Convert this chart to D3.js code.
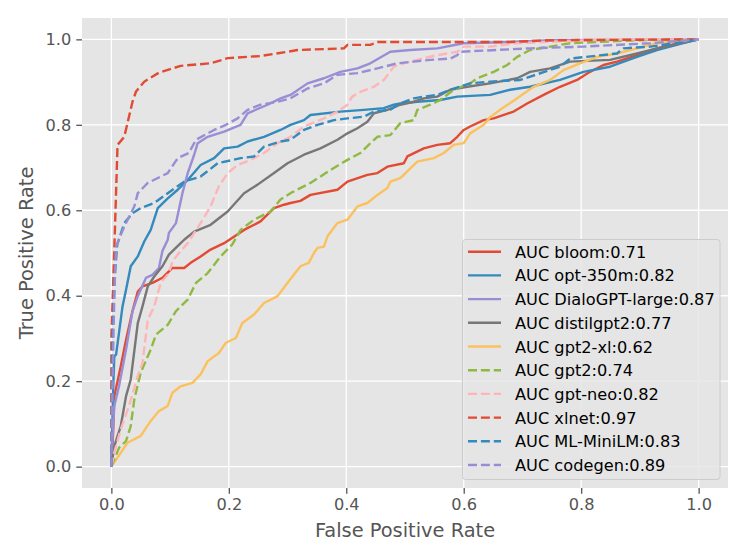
<!DOCTYPE html>
<html lang="en">
<head>
<meta charset="UTF-8">
<title>ROC curves</title>
<script src="https://d3js.org/d3.v7.min.js"></script>
<style>
  body { margin: 0; background: #fff; }
  text { font-family: "DejaVu Sans", sans-serif; }
</style>
</head>
<body>
<script>
// model names and AUC values as printed in the legend
const models = ["bloom", "opt-350m", "DialoGPT-large", "distilgpt2", "gpt2-xl",
                "gpt2", "gpt-neo", "xlnet", "ML-MiniLM", "codegen"];
const aucs = [0.71, 0.82, 0.87, 0.77, 0.62, 0.74, 0.82, 0.97, 0.83, 0.89];
const ticks = [0.0, 0.2, 0.4, 0.6, 0.8, 1.0];

// [fpr, tpr] points
const bloom = [[0,0],[0.003,0.08],[0.005,0.165],[0.016,0.235],[0.025,0.297],[0.036,0.364],[0.045,0.410],[0.053,0.422],[0.070,0.430],[0.087,0.442],[0.101,0.461],[0.104,0.465],[0.124,0.465],[0.135,0.477],[0.152,0.492],[0.169,0.508],[0.192,0.523],[0.226,0.554],[0.254,0.574],[0.277,0.605],[0.294,0.613],[0.305,0.617],[0.322,0.622],[0.339,0.636],[0.385,0.648],[0.402,0.667],[0.436,0.683],[0.453,0.687],[0.470,0.702],[0.498,0.710],[0.504,0.726],[0.532,0.745],[0.555,0.753],[0.577,0.757],[0.589,0.772],[0.600,0.788],[0.611,0.796],[0.634,0.811],[0.651,0.815],[0.685,0.831],[0.708,0.850],[0.736,0.870],[0.764,0.889],[0.793,0.905],[0.815,0.924],[0.838,0.940],[0.861,0.948],[0.895,0.963],[0.929,0.979],[0.974,0.994],[1,1]];
const opt350m = [[0,0],[0.003,0.18],[0.005,0.258],[0.008,0.262],[0.013,0.313],[0.019,0.375],[0.025,0.414],[0.033,0.469],[0.045,0.492],[0.056,0.527],[0.067,0.554],[0.079,0.605],[0.096,0.628],[0.113,0.648],[0.130,0.671],[0.152,0.706],[0.175,0.722],[0.192,0.745],[0.215,0.749],[0.232,0.761],[0.260,0.772],[0.288,0.788],[0.305,0.800],[0.328,0.811],[0.339,0.823],[0.390,0.831],[0.430,0.835],[0.464,0.839],[0.481,0.847],[0.492,0.850],[0.521,0.854],[0.560,0.858],[0.589,0.866],[0.645,0.870],[0.679,0.882],[0.713,0.889],[0.764,0.905],[0.804,0.924],[0.849,0.936],[0.895,0.959],[0.929,0.975],[0.974,0.991],[1,1]];
const dialoGPT = [[0,0],[0.002,0.07],[0.005,0.142],[0.013,0.188],[0.025,0.274],[0.036,0.364],[0.045,0.399],[0.059,0.442],[0.070,0.449],[0.081,0.465],[0.087,0.505],[0.096,0.531],[0.098,0.547],[0.110,0.570],[0.121,0.640],[0.130,0.687],[0.141,0.730],[0.147,0.757],[0.164,0.772],[0.192,0.784],[0.220,0.800],[0.232,0.827],[0.266,0.847],[0.288,0.862],[0.305,0.870],[0.334,0.897],[0.362,0.909],[0.390,0.924],[0.419,0.932],[0.441,0.944],[0.475,0.971],[0.509,0.975],[0.555,0.979],[0.600,0.991],[0.679,0.994],[0.747,0.998],[1,1]];
const distilgpt2 = [[0,0],[0.005,0.048],[0.016,0.095],[0.025,0.165],[0.033,0.204],[0.045,0.336],[0.053,0.375],[0.062,0.422],[0.073,0.445],[0.087,0.469],[0.098,0.496],[0.118,0.523],[0.124,0.531],[0.141,0.550],[0.169,0.566],[0.198,0.597],[0.226,0.640],[0.249,0.660],[0.277,0.687],[0.300,0.710],[0.328,0.730],[0.356,0.745],[0.385,0.765],[0.402,0.780],[0.419,0.792],[0.436,0.807],[0.447,0.827],[0.470,0.835],[0.492,0.847],[0.515,0.854],[0.532,0.862],[0.555,0.866],[0.577,0.882],[0.606,0.889],[0.645,0.897],[0.691,0.909],[0.713,0.924],[0.747,0.932],[0.781,0.948],[0.849,0.952],[0.895,0.967],[0.929,0.979],[1,1]];
const gpt2xl = [[0,0],[0.0105,0.021],[0.0275,0.056],[0.050,0.072],[0.067,0.107],[0.081,0.130],[0.096,0.142],[0.104,0.173],[0.118,0.188],[0.138,0.196],[0.152,0.216],[0.164,0.247],[0.183,0.266],[0.195,0.290],[0.212,0.301],[0.223,0.336],[0.243,0.356],[0.260,0.383],[0.283,0.399],[0.302,0.434],[0.322,0.469],[0.336,0.477],[0.345,0.500],[0.351,0.512],[0.362,0.515],[0.368,0.539],[0.385,0.570],[0.402,0.578],[0.419,0.609],[0.436,0.617],[0.453,0.636],[0.470,0.652],[0.475,0.667],[0.492,0.675],[0.506,0.694],[0.521,0.714],[0.549,0.722],[0.566,0.734],[0.583,0.753],[0.600,0.757],[0.611,0.780],[0.634,0.800],[0.645,0.818],[0.665,0.838],[0.691,0.862],[0.719,0.889],[0.747,0.905],[0.770,0.928],[0.798,0.944],[0.827,0.959],[0.861,0.967],[0.895,0.979],[0.929,0.991],[0.952,0.994],[1,1]];
const gpt2 = [[0,0],[0.013,0.044],[0.025,0.060],[0.033,0.095],[0.039,0.157],[0.050,0.220],[0.067,0.274],[0.076,0.309],[0.096,0.332],[0.110,0.364],[0.130,0.391],[0.144,0.430],[0.164,0.453],[0.186,0.492],[0.206,0.520],[0.220,0.554],[0.243,0.578],[0.271,0.597],[0.288,0.625],[0.305,0.640],[0.339,0.664],[0.373,0.694],[0.402,0.718],[0.424,0.734],[0.441,0.757],[0.453,0.772],[0.475,0.776],[0.492,0.804],[0.515,0.811],[0.521,0.835],[0.543,0.847],[0.560,0.858],[0.583,0.882],[0.611,0.897],[0.623,0.909],[0.651,0.924],[0.674,0.940],[0.691,0.959],[0.713,0.975],[0.747,0.983],[0.781,0.991],[0.895,0.998],[1,1]];
const gptNeo = [[0,0],[0.005,0.033],[0.016,0.087],[0.030,0.142],[0.045,0.212],[0.053,0.243],[0.062,0.344],[0.073,0.375],[0.084,0.430],[0.098,0.453],[0.104,0.480],[0.115,0.500],[0.130,0.523],[0.152,0.570],[0.169,0.609],[0.183,0.656],[0.198,0.687],[0.215,0.706],[0.237,0.718],[0.260,0.734],[0.283,0.757],[0.305,0.772],[0.328,0.796],[0.362,0.815],[0.385,0.831],[0.402,0.847],[0.410,0.866],[0.424,0.877],[0.447,0.889],[0.464,0.905],[0.481,0.936],[0.498,0.944],[0.532,0.956],[0.555,0.963],[0.589,0.971],[0.600,0.983],[0.645,0.983],[0.691,0.991],[0.849,1.0],[1,1]];
const xlnet = [[0,0],[0,0.3],[0.005,0.508],[0.0105,0.753],[0.022,0.772],[0.036,0.854],[0.042,0.878],[0.056,0.901],[0.081,0.922],[0.118,0.938],[0.169,0.944],[0.198,0.956],[0.254,0.961],[0.300,0.971],[0.317,0.975],[0.396,0.979],[0.402,0.987],[0.441,0.987],[0.453,0.994],[0.679,0.994],[0.75,0.998],[1,1]];
const miniLM = [[0,0],[0.002,0.3],[0.006,0.45],[0.01,0.52],[0.022,0.570],[0.036,0.593],[0.050,0.605],[0.073,0.617],[0.096,0.640],[0.124,0.667],[0.152,0.679],[0.181,0.710],[0.220,0.722],[0.243,0.726],[0.260,0.749],[0.288,0.761],[0.305,0.765],[0.328,0.788],[0.351,0.800],[0.379,0.811],[0.402,0.815],[0.430,0.819],[0.447,0.831],[0.475,0.835],[0.492,0.850],[0.515,0.862],[0.532,0.866],[0.555,0.870],[0.577,0.882],[0.611,0.897],[0.645,0.901],[0.696,0.905],[0.764,0.936],[0.781,0.955],[0.861,0.967],[0.872,0.979],[0.918,0.983],[0.974,0.994],[1,1]];
const codegen = [[0,0],[0.002,0.2],[0.005,0.4],[0.008,0.515],[0.022,0.562],[0.039,0.609],[0.045,0.640],[0.062,0.664],[0.096,0.687],[0.113,0.722],[0.132,0.734],[0.144,0.765],[0.175,0.788],[0.195,0.800],[0.215,0.815],[0.232,0.835],[0.254,0.847],[0.283,0.854],[0.305,0.862],[0.334,0.885],[0.362,0.897],[0.385,0.917],[0.419,0.921],[0.453,0.932],[0.487,0.944],[0.515,0.948],[0.543,0.952],[0.577,0.955],[0.589,0.963],[0.594,0.971],[0.713,0.979],[0.804,0.983],[0.918,0.991],[1,1]];

const curves = [bloom, opt350m, dialoGPT, distilgpt2, gpt2xl, gpt2, gptNeo, xlnet, miniLM, codegen];
const colors = ["#E24A33", "#348ABD", "#988ED5", "#777777", "#FBC15E",
                "#8EBA42", "#FFB5B8", "#E24A33", "#348ABD", "#988ED5"];
const dashed = [false, false, false, false, false, true, true, true, true, true];

const width = 747, height = 560;
const plotL = 82, plotR = 728, plotT = 18, plotB = 488;
const lw = 2.4;

const x = d3.scaleLinear().domain([-0.05, 1.05]).range([plotL, plotR]);
const y = d3.scaleLinear().domain([-0.05, 1.05]).range([plotB, plotT]);

const svg = d3.select("body").append("svg")
  .attr("width", width)
  .attr("height", height);

svg.append("rect")
  .attr("x", plotL).attr("y", plotT)
  .attr("width", plotR - plotL).attr("height", plotB - plotT)
  .attr("fill", "#E5E5E5");

// grid
svg.append("g").selectAll("line").data(ticks).join("line")
  .attr("x1", d => x(d)).attr("x2", d => x(d))
  .attr("y1", plotT).attr("y2", plotB)
  .attr("stroke", "#fff").attr("stroke-width", 1.3);
svg.append("g").selectAll("line").data(ticks).join("line")
  .attr("y1", d => y(d)).attr("y2", d => y(d))
  .attr("x1", plotL).attr("x2", plotR)
  .attr("stroke", "#fff").attr("stroke-width", 1.3);

const xAxis = svg.append("g")
  .attr("transform", `translate(0,${plotB})`)
  .call(d3.axisBottom(x).tickValues(ticks).tickFormat(d3.format(".1f")).tickSize(5.7).tickPadding(5));
const yAxis = svg.append("g")
  .attr("transform", `translate(${plotL},0)`)
  .call(d3.axisLeft(y).tickValues(ticks).tickFormat(d3.format(".1f")).tickSize(5.7).tickPadding(5));

[xAxis, yAxis].forEach(g => {
  g.select(".domain").remove();
  g.selectAll(".tick line").attr("stroke", "#555555").attr("stroke-width", 1.3);
  g.selectAll(".tick text").attr("fill", "#555555").attr("font-size", "16.2px")
    .attr("font-family", "DejaVu Sans");
});

svg.append("clipPath").attr("id", "plot-clip")
  .append("rect")
  .attr("x", plotL).attr("y", plotT)
  .attr("width", plotR - plotL).attr("height", plotB - plotT);

const line = d3.line().x(d => x(d[0])).y(d => y(d[1]));

svg.append("g").attr("clip-path", "url(#plot-clip)")
  .selectAll("path").data(curves).join("path")
  .attr("d", line)
  .attr("fill", "none")
  .attr("stroke", (d, i) => colors[i])
  .attr("stroke-width", lw)
  .attr("stroke-linejoin", "round")
  .attr("stroke-dasharray", (d, i) => dashed[i] ? "9,3.9" : null);

// axis labels
svg.append("text")
  .attr("x", (plotL + plotR) / 2).attr("y", 537)
  .attr("text-anchor", "middle")
  .attr("font-size", "19.4px")
  .attr("fill", "#555555")
  .text("False Positive Rate");

svg.append("text")
  .attr("transform", `translate(33,${(plotT + plotB) / 2}) rotate(-90)`)
  .attr("text-anchor", "middle")
  .attr("font-size", "19.4px")
  .attr("fill", "#555555")
  .text("True Positive Rate");

// legend
const legend = svg.append("g");
legend.append("rect")
  .attr("x", 462.5).attr("y", 239.5)
  .attr("width", 257.5).attr("height", 240)
  .attr("rx", 3)
  .attr("fill", "#E5E5E5").attr("fill-opacity", 0.8)
  .attr("stroke", "#CCCCCC").attr("stroke-width", 1);

const rows = legend.selectAll("g.row").data(models).join("g")
  .attr("class", "row")
  .attr("transform", (d, i) => `translate(0,${251.7 + i * 23.7})`);

rows.append("line")
  .attr("x1", 468).attr("x2", 501)
  .attr("stroke", (d, i) => colors[i])
  .attr("stroke-width", lw)
  .attr("stroke-dasharray", (d, i) => dashed[i] ? "9,3.9" : null);

rows.append("text")
  .attr("x", 515).attr("y", 6)
  .attr("font-size", "16.2px")
  .attr("fill", "#000")
  .text((d, i) => `AUC ${d}:${aucs[i].toFixed(2)}`);
</script>
</body>
</html>
